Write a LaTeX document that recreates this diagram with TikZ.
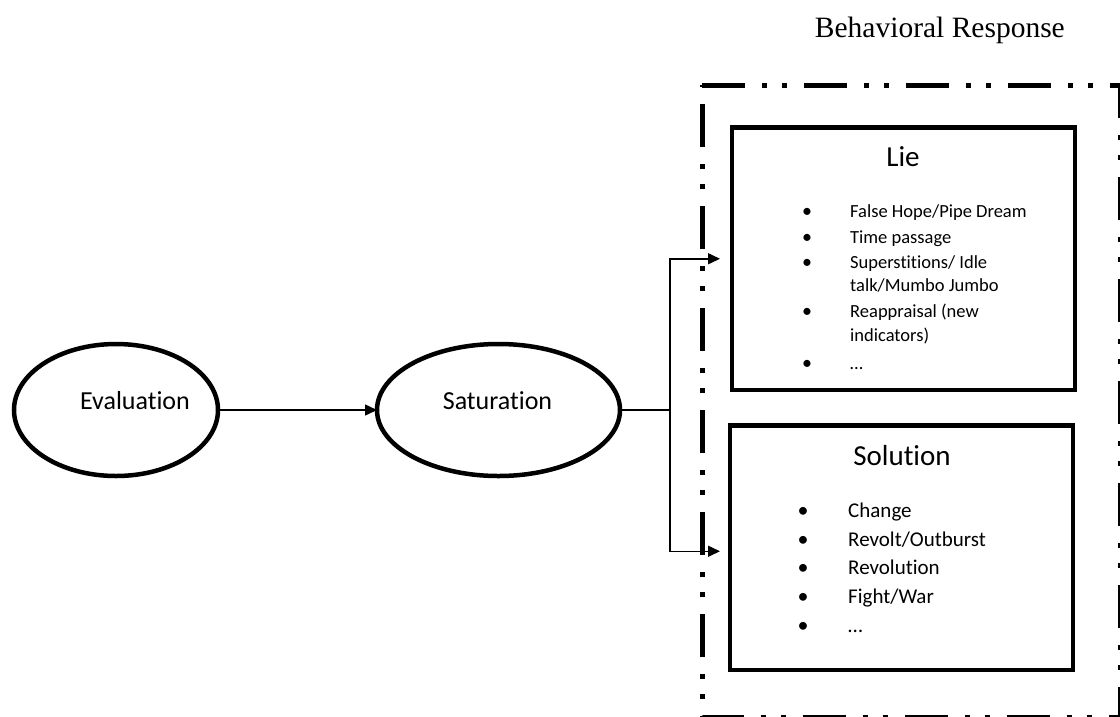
\documentclass[tikz,border=0pt]{standalone}
\usepackage{fontspec}
\setmainfont{Carlito}[Ligatures=NoCommon]
\newfontfamily\headfont{Liberation Serif}
\usetikzlibrary{arrows.meta,shapes.geometric}
\begin{document}
\begin{tikzpicture}[x=1pt,y=-1pt,
  oval/.style={draw, ellipse, line width=4.5pt, inner sep=0pt, outer sep=0pt},
  panel/.style={draw, rectangle, line width=4.5pt, inner sep=0pt, outer sep=0pt},
  conn/.style={line width=1.5pt},
  arr/.style={conn, -{Triangle[length=12pt,width=11pt]}},
  frame/.style={line width=5pt, dash pattern=on 43pt off 17pt on 5pt off 15pt on 5pt off 17pt},
  lbl/.style={inner sep=0pt, anchor=base, font=\fontsize{26}{30}\selectfont},
  ttl/.style={inner sep=0pt, anchor=base, font=\fontsize{29}{34}\selectfont},
  itemA/.style={inner sep=0pt, anchor=base west, font=\fontsize{18.5}{22}\selectfont},
  itemB/.style={inner sep=0pt, anchor=base west, font=\fontsize{21}{25}\selectfont},
  bulA/.style={inner sep=0pt, anchor=base, font=\fontsize{20}{22}\selectfont},
  bulB/.style={inner sep=0pt, anchor=base, font=\fontsize{22}{25}\selectfont}
]
\useasboundingbox (0,0) rectangle (1120,716);
\clip (0,0) rectangle (1120,716);

% heading
\node[inner sep=0pt, anchor=base east, font=\headfont\fontsize{29.5}{34}\selectfont] (head) at (1065,37) {Behavioral Response};

% dash-dot-dot frame
\draw[frame] (702,85) -- (1120.5,85) -- (1120.5,717.5) -- (702,717.5) -- cycle;

% ellipses
\node[oval, minimum width=204pt, minimum height=132pt] (eval) at (116,410) {};
\node[lbl] (evaltxt) at (135,409) {Evaluation};
\node[oval, minimum width=243pt, minimum height=132pt] (sat) at (498.5,410) {};
\node[lbl] (sattxt) at (497.5,409) {Saturation};

% boxes
\node[panel, minimum width=343pt, minimum height=262.5pt] (lie) at (903.5,258.75) {};
\node[panel, minimum width=343pt, minimum height=244.5pt] (sol) at (901.5,547.75) {};

% titles
\node[ttl] (lietitle) at (903,166) {Lie};
\node[ttl] (soltitle) at (902,465) {Solution};

% Lie items
\node[bulA] (lb1) at (807,217) {•};
\node[itemA] (lt1) at (850,217) {False Hope/Pipe Dream};
\node[bulA] (lb2) at (807,243) {•};
\node[itemA] (lt2) at (850,243) {Time passage};
\node[bulA] (lb3) at (807,268) {•};
\node[itemA] (lt3) at (850,268) {Superstitions/ Idle};
\node[itemA] (lt3b) at (850,291) {talk/Mumbo Jumbo};
\node[bulA] (lb4) at (807,317) {•};
\node[itemA] (lt4) at (850,317) {Reappraisal (new};
\node[itemA] (lt4b) at (850,341) {indicators)};
\node[bulA] (lb5) at (807,369) {•};
\node[itemA] (lt5) at (850,369) {…};

% Solution items
\node[bulB] (sb1) at (803,517) {•};
\node[itemB] (st1) at (848,517) {Change};
\node[bulB] (sb2) at (803,546) {•};
\node[itemB] (st2) at (848,546) {Revolt/Outburst};
\node[bulB] (sb3) at (803,574) {•};
\node[itemB] (st3) at (848,574) {Revolution};
\node[bulB] (sb4) at (803,603) {•};
\node[itemB] (st4) at (848,603) {Fight/War};
\node[bulB] (sb5) at (803,632) {•};
\node[itemB] (st5) at (848,632) {…};

% connectors
\coordinate (br) at (670,410);
\draw[arr] (eval.east) -- (sat.west);
\draw[conn] (sat.east) -- (br);
\draw[arr, shorten >=12pt] (br) |- (lie.west);
\draw[arr, shorten >=10pt] (br) |- ([yshift=-3.5pt]sol.west);
\end{tikzpicture}
\end{document}
